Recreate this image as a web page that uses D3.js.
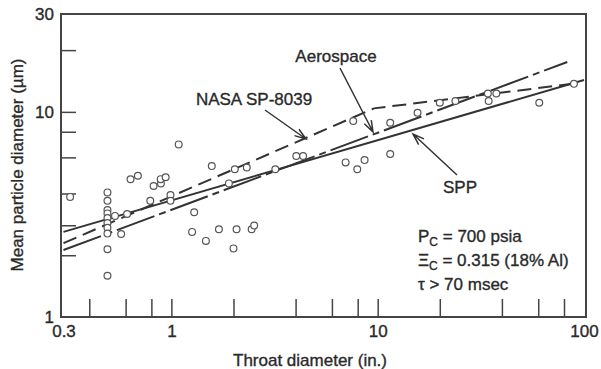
<!DOCTYPE html>
<html>
<head>
<meta charset="utf-8">
<script src="https://cdn.jsdelivr.net/npm/d3@7/dist/d3.min.js"></script>
<style>
  body { margin: 0; background: #fff; }
  svg text { font-family: "Liberation Sans", Arial, sans-serif; fill: #2a2a2a; stroke: #2a2a2a; stroke-width: 0.35px; }
</style>
</head>
<body>
<svg id="chart" width="601" height="369"></svg>
<script>
// measured points (throat diameter in., mean particle diameter um)
const throatDiam = [0.323, 0.49, 0.49, 0.49, 0.49, 0.49, 0.49, 0.49, 0.49, 0.49, 0.49,
  0.533, 0.571, 0.61, 0.634, 0.688, 0.79, 0.82, 0.89, 0.887, 0.938, 0.99, 0.99,
  1.085, 1.26, 1.29, 1.47, 1.57, 1.70, 1.90, 2.0, 2.03, 2.07, 2.32, 2.45, 2.52,
  3.19, 4.03, 4.35, 6.99, 7.61, 7.96, 8.64, 11.5, 11.5, 15.6, 20.0, 23.8,
  34.2, 34.5, 37.6, 60.7, 89.4];
const meanDiam = [3.85, 4.05, 3.69, 3.32, 3.20, 3.04, 2.87, 2.72, 2.55, 2.14, 1.59,
  3.11, 2.54, 3.18, 4.69, 4.88, 3.69, 4.35, 4.48, 4.70, 4.80, 3.93, 3.69,
  6.94, 2.60, 3.24, 2.35, 5.44, 2.68, 4.48, 2.16, 5.25, 2.68, 5.36, 2.68, 2.79,
  5.25, 6.09, 6.09, 5.67, 9.02, 5.25, 5.82, 6.23, 8.85, 9.90, 11.08, 11.29,
  12.3, 11.29, 12.3, 11.08, 13.7];

// correlation curves
const sppX = [0.3, 100];
const sppY = [2.6, 14.3];
const nasaX = [0.3, 9.6, 88];
const nasaY = [2.29, 10.4, 13.7];
const aeroX = [0.3, 83];
const aeroY = [2.12, 17.5];

const xTicks = [0.4, 0.6, 0.8, 1, 2, 4, 6, 8, 10, 20, 40, 60, 80];
const xTickLabels = [0.3, 1, 10, 100];
const yTicks = [2, 2.8, 4, 6, 8, 10, 20];
const yTickLabels = [1, 10, 30];

const svg = d3.select("#chart");

const x = d3.scaleLog().domain([0.3, 100]).range([63.5, 584]);
const y = d3.scaleLog().domain([1, 30]).range([317, 14]);

// frame
svg.append("rect")
  .attr("x", 61).attr("y", 14)
  .attr("width", 525).attr("height", 303)
  .attr("fill", "none")
  .attr("stroke", "#444")
  .attr("stroke-width", 2);

// inward ticks
const xTickG = svg.append("g")
  .attr("transform", "translate(0,317)")
  .call(d3.axisBottom(x).tickValues(xTicks).tickSize(-18).tickFormat(""));
const yTickG = svg.append("g")
  .attr("transform", "translate(61,0)")
  .call(d3.axisLeft(y).tickValues(yTicks).tickSize(-15).tickFormat(""));
[xTickG, yTickG].forEach(g => {
  g.select(".domain").remove();
  g.selectAll("line").attr("stroke", "#444").attr("stroke-width", 1.5);
});

// tick labels
const xLab = svg.append("g")
  .attr("transform", "translate(0,317)")
  .call(d3.axisBottom(x).tickValues(xTickLabels).tickSize(0).tickPadding(8)
    .tickFormat(d3.format("~g")));
const yLab = svg.append("g")
  .attr("transform", "translate(61,0)")
  .call(d3.axisLeft(y).tickValues(yTickLabels).tickSize(0).tickPadding(7)
    .tickFormat(d3.format("~g")));
[xLab, yLab].forEach(g => {
  g.select(".domain").remove();
  g.selectAll("text")
    .style("font-size", "17px")
    .style("font-family", "'Liberation Sans', Arial, sans-serif")
    .attr("fill", "#2a2a2a");
});

// axis titles
svg.append("text")
  .attr("x", 310).attr("y", 366)
  .attr("text-anchor", "middle")
  .style("font-size", "17px")
  .text("Throat diameter (in.)");

svg.append("text")
  .attr("transform", "translate(23,165) rotate(-90)")
  .attr("text-anchor", "middle")
  .style("font-size", "17px")
  .text("Mean particle diameter (µm)");

// curves
const line = d3.line().x(d => x(d[0])).y(d => y(d[1]));
function curve(xs, ys, dash) {
  svg.append("path")
    .datum(d3.zip(xs, ys))
    .attr("d", line)
    .attr("fill", "none")
    .attr("stroke", "#333")
    .attr("stroke-width", 2)
    .attr("stroke-dasharray", dash);
}
curve(sppX, sppY, null);
curve(nasaX, nasaY, "14,7");
curve(aeroX, aeroY, "40,5,7,5");

// data points
svg.append("g")
  .selectAll("circle")
  .data(d3.zip(throatDiam, meanDiam))
  .enter()
  .append("circle")
  .attr("cx", d => x(d[0]))
  .attr("cy", d => y(d[1]))
  .attr("r", 3.4)
  .attr("fill", "#fff")
  .attr("stroke", "#555")
  .attr("stroke-width", 1.2);

// annotations with arrows
function arrow(x1, y1, x2, y2) {
  const a = Math.atan2(y2 - y1, x2 - x1);
  const len = 12, spread = 0.33;
  const p = d3.path();
  p.moveTo(x1, y1);
  p.lineTo(x2, y2);
  p.moveTo(x2 - len * Math.cos(a - spread), y2 - len * Math.sin(a - spread));
  p.lineTo(x2, y2);
  p.lineTo(x2 - len * Math.cos(a + spread), y2 - len * Math.sin(a + spread));
  svg.append("path")
    .attr("d", p.toString())
    .attr("fill", "none")
    .attr("stroke", "#333")
    .attr("stroke-width", 1.5);
}

svg.append("text").attr("x", 336).attr("y", 62)
  .attr("text-anchor", "middle").style("font-size", "17px").text("Aerospace");
arrow(340, 68, 373, 132);

svg.append("text").attr("x", 254).attr("y", 105)
  .attr("text-anchor", "middle").style("font-size", "17px").text("NASA SP-8039");
arrow(265, 110, 306, 139);

svg.append("text").attr("x", 460).attr("y", 193)
  .attr("text-anchor", "middle").style("font-size", "17px").text("SPP");
arrow(457, 175, 413, 134);

// conditions block
const cond = svg.append("g").style("font-size", "17px");
const t1 = cond.append("text").attr("x", 418).attr("y", 242);
t1.append("tspan").text("P");
t1.append("tspan").attr("dy", 4).style("font-size", "12px").text("C");
t1.append("tspan").attr("dy", -4).text(" = 700 psia");

const t2 = cond.append("text").attr("x", 418).attr("y", 266);
t2.append("tspan").text("Ξ");
t2.append("tspan").attr("dy", 4).style("font-size", "12px").text("C");
t2.append("tspan").attr("dy", -4).text(" = 0.315 (18% Al)");

cond.append("text").attr("x", 418).attr("y", 290).text("τ > 70 msec");
</script>
</body>
</html>
